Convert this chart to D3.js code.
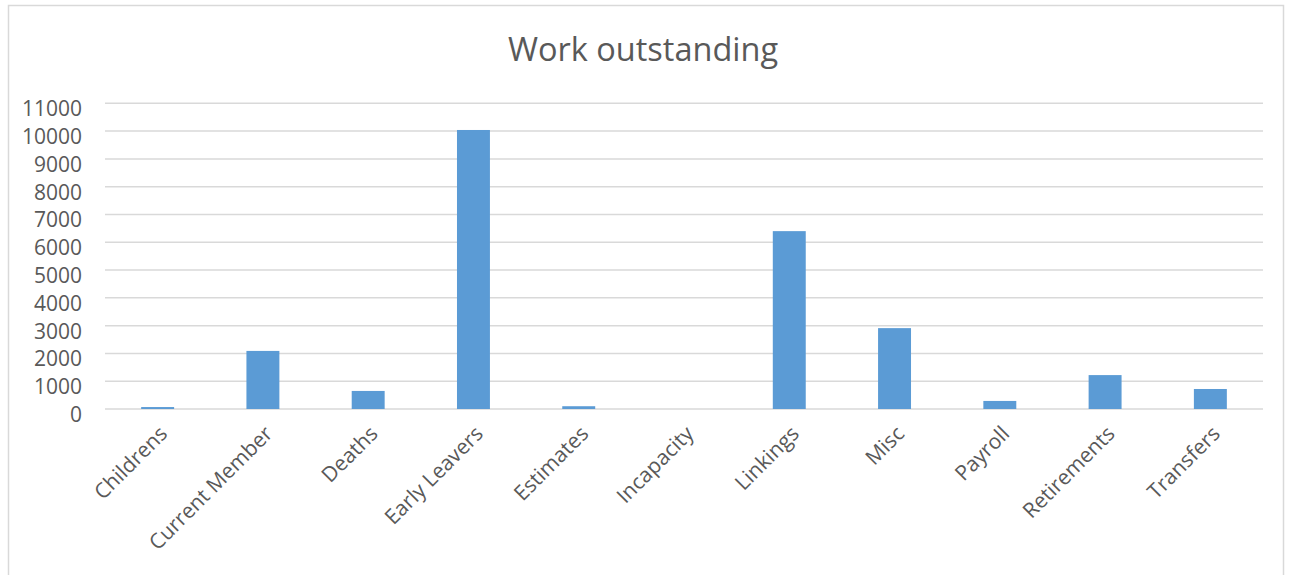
<!DOCTYPE html>
<html>
<head>
<meta charset="utf-8">
<script src="https://cdn.jsdelivr.net/npm/d3@7"></script>
<style>
  html, body { margin: 0; padding: 0; background: #fff; }
  svg { display: block; font-family: "Open Sans", sans-serif; }
</style>
</head>
<body>
<svg id="chart" width="1289" height="575"></svg>
<script>
// Work outstanding
const categories = ['Childrens', 'Current Member', 'Deaths', 'Early Leavers', 'Estimates',
  'Incapacity', 'Linkings', 'Misc', 'Payroll', 'Retirements', 'Transfers'];
const outstanding = [70, 2090, 650, 10040, 100, 0, 6400, 2910, 290, 1220, 720];
const yTicks = [0, 1000, 2000, 3000, 4000, 5000, 6000, 7000, 8000, 9000, 10000, 11000];

const W = 1289, H = 575;
const plot = { left: 105, right: 1263, top: 103.3, bottom: 409 };
const textColor = '#595959';
const gridColor = '#d9d9d9';

const svg = d3.select('#chart');

// Chart area frame (bottom runs off the picture, like the reference)
svg.append('rect')
  .attr('x', 8.5).attr('y', 5.5)
  .attr('width', 1275).attr('height', 620)
  .attr('fill', '#fff')
  .attr('stroke', gridColor).attr('stroke-width', 1.5);

svg.append('text')
  .attr('x', 643).attr('y', 61)
  .attr('text-anchor', 'middle')
  .attr('fill', textColor)
  .style('font-size', '32.5px')
  .text('Work outstanding');

const x = d3.scaleBand().domain(categories).range([plot.left, plot.right]).padding(0);
const y = d3.scaleLinear().domain([0, 11000]).range([plot.bottom, plot.top]);

// Horizontal gridlines
svg.append('g')
  .selectAll('line')
  .data(yTicks)
  .join('line')
  .attr('x1', plot.left).attr('x2', plot.right)
  .attr('y1', d => y(d)).attr('y2', d => y(d))
  .attr('stroke', gridColor).attr('stroke-width', 1.5);

// Bars — roughly a third of each band, centred
const barW = x.bandwidth() * 0.313;
svg.append('g')
  .selectAll('rect')
  .data(categories)
  .join('rect')
  .attr('x', (c) => x(c) + (x.bandwidth() - barW) / 2)
  .attr('y', (c, i) => y(outstanding[i]))
  .attr('width', barW)
  .attr('height', (c, i) => y(0) - y(outstanding[i]))
  .attr('fill', '#5b9bd5');

// Y axis labels (Excel sits them a few px below each gridline)
const yAxis = svg.append('g')
  .attr('transform', `translate(${plot.left},0)`)
  .call(d3.axisLeft(y).tickValues(yTicks).tickSize(0).tickPadding(23).tickFormat(d3.format('d')));
yAxis.select('.domain').remove();
yAxis.selectAll('text')
  .attr('dy', 12.5)
  .attr('fill', textColor)
  .style('font-size', '21px')
  .style('font-family', '"Open Sans", sans-serif');

// X axis — rotated category labels
const xAxis = svg.append('g')
  .attr('transform', `translate(0,${plot.bottom})`)
  .call(d3.axisBottom(x).tickSize(0));
xAxis.select('.domain').remove();
xAxis.selectAll('text')
  .attr('x', 0).attr('y', 0).attr('dy', 0)
  .attr('text-anchor', 'end')
  .attr('transform', 'translate(11,26) rotate(-45)')
  .attr('fill', textColor)
  .style('font-size', '21px')
  .style('font-family', '"Open Sans", sans-serif');
</script>
</body>
</html>
